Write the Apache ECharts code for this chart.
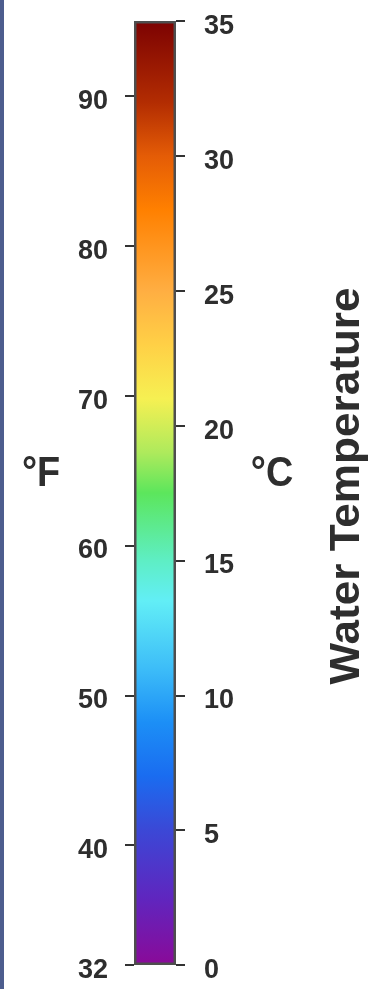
<!DOCTYPE html>
<html>
<head>
<meta charset="utf-8">
<title>Water Temperature</title>
<script src="https://cdn.jsdelivr.net/npm/echarts@6/dist/echarts.min.js"></script>
<style>
  html, body { margin: 0; padding: 0; background: #ffffff; }
  #chart { width: 376px; height: 989px; }
</style>
</head>
<body>
<div id="chart"></div>
<script>
// Temperature range of the colour bar (°C) and its Fahrenheit equivalent
const celsiusMin = 0;
const celsiusMax = 35;
const fahrenheitMin = 32;
const fahrenheitMax = 95;

// Tick values on each side
const fahrenheitTicks = [32, 40, 50, 60, 70, 80, 90];
const celsiusTicks = [0, 5, 10, 15, 20, 25, 30, 35];

// Colour ramp: temperature (°C) at each stop and its colour
const rampTemps = [0, 2.5, 5, 7, 9, 11, 13.5, 15, 17.5, 19, 21, 23, 25, 28, 30, 32, 35];
const rampColors = [
  '#8a0a98', '#5f26bf', '#3b48d6', '#1a6cf0', '#1c8ff6', '#3dbdf8',
  '#62eef6', '#5eeec4', '#5ce65c', '#aeea5c', '#f6f052', '#ffd046',
  '#ffae42', '#ff8000', '#e45c06', '#b22c02', '#7c0202'
];

const fahrenheitName = '°F';
const celsiusName = '°C';
const axisTitle = 'Water Temperature';
const category = ['ramp'];
const barValue = [celsiusMax];

const textColor = '#2e2e2e';
const font = 'Liberation Sans, Arial, sans-serif';

// gradient offsets run from the top of the bar (35 °C) to its bottom (0 °C)
const gradientStops = rampTemps.map((t, i) => ({
  offset: (celsiusMax - t) / (celsiusMax - celsiusMin),
  color: rampColors[i]
}));

// tick labels sit a little below their tick marks
const tickLabelRich = {
  v: {
    color: textColor,
    fontSize: 27,
    fontWeight: 'bold',
    fontFamily: font,
    padding: [11, 0, 0, 0]
  }
};

const chart = echarts.init(document.getElementById('chart'), null, { renderer: 'canvas' });

chart.setOption({
  animation: false,
  backgroundColor: '#ffffff',
  grid: { left: 134, right: 200, top: 21, bottom: 24 },
  xAxis: {
    type: 'category',
    data: category,
    show: false
  },
  yAxis: [
    {
      type: 'value',
      position: 'left',
      min: fahrenheitMin,
      max: fahrenheitMax,
      splitLine: { show: false },
      axisLine: { show: false },
      axisTick: {
        show: true,
        length: 9,
        customValues: fahrenheitTicks,
        lineStyle: { color: '#333333', width: 2 }
      },
      axisLabel: {
        customValues: fahrenheitTicks,
        margin: 26,
        formatter: '{v|{value}}',
        rich: tickLabelRich
      }
    },
    {
      type: 'value',
      position: 'right',
      min: celsiusMin,
      max: celsiusMax,
      interval: 5,
      splitLine: { show: false },
      axisLine: { show: false },
      axisTick: {
        show: true,
        length: 9,
        customValues: celsiusTicks,
        lineStyle: { color: '#333333', width: 2 }
      },
      axisLabel: {
        customValues: celsiusTicks,
        margin: 28,
        formatter: '{v|{value}}',
        rich: tickLabelRich
      }
    }
  ],
  series: [
    {
      type: 'bar',
      yAxisIndex: 1,
      data: barValue,
      barWidth: '100%',
      itemStyle: {
        color: new echarts.graphic.LinearGradient(0, 0, 0, 1, gradientStops),
        borderColor: '#4e4e4e',
        borderWidth: 2.5
      },
      silent: true
    }
  ],
  graphic: [
    // thin strip of the neighbouring panel along the left edge
    {
      type: 'rect',
      left: 0,
      top: 0,
      shape: { width: 4, height: 989 },
      style: { fill: '#4d5d8e' },
      silent: true
    },
    {
      type: 'text',
      x: 41,
      y: 474,
      scaleX: 0.9,
      style: {
        text: fahrenheitName,
        fill: textColor,
        font: 'bold 42px ' + font,
        textAlign: 'center',
        textVerticalAlign: 'middle'
      },
      silent: true
    },
    {
      type: 'text',
      x: 272,
      y: 474,
      scaleX: 0.9,
      style: {
        text: celsiusName,
        fill: textColor,
        font: 'bold 42px ' + font,
        textAlign: 'center',
        textVerticalAlign: 'middle'
      },
      silent: true
    },
    {
      type: 'text',
      x: 347,
      y: 486,
      rotation: Math.PI / 2,
      scaleX: 1.05,
      style: {
        text: axisTitle,
        fill: textColor,
        font: 'bold 42px ' + font,
        textAlign: 'center',
        textVerticalAlign: 'middle'
      },
      silent: true
    }
  ]
});
</script>
</body>
</html>
